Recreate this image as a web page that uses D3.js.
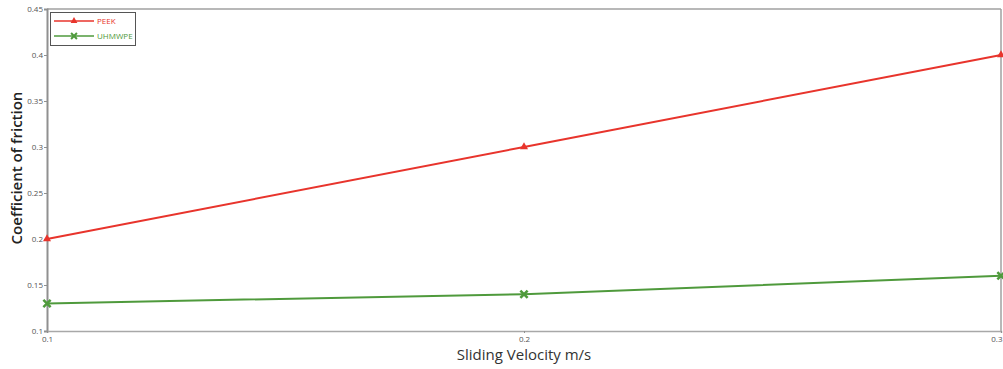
<!DOCTYPE html>
<html><head><meta charset="utf-8">
<script src="https://cdn.jsdelivr.net/npm/d3@7"></script>
<style>body{margin:0;background:#fff}svg{display:block}</style>
</head><body><svg id="c" width="1003" height="369"></svg>
<script>
const categories = ["0.1", "0.2", "0.3"];
const peek = [0.2, 0.3, 0.4];
const uhmwpe = [0.13, 0.14, 0.16];
const yTicks = [0.1, 0.15, 0.2, 0.25, 0.3, 0.35, 0.4, 0.45];
const seriesNames = ["PEEK", "UHMWPE"];
const colors = ["#e8342c", "#4f9a3c"];

const svg = d3.select("#c");
const L = 47, R = 1001, T = 9, B = 331;
const x = d3.scalePoint().domain(categories).range([L, R]);
const y = d3.scaleLinear().domain([0.1, 0.45]).range([B, T]);

// frame
svg.append("line").attr("x1", L).attr("x2", R).attr("y1", T).attr("y2", T).attr("stroke", "#a0a0a0").attr("stroke-width", 1.5);
svg.append("line").attr("x1", R).attr("x2", R).attr("y1", T).attr("y2", B).attr("stroke", "#a0a0a0").attr("stroke-width", 1.5);

const yAxis = d3.axisLeft(y).tickValues(yTicks).tickSize(3).tickFormat(d => d3.format("")(+d.toFixed(2)));
const gy = svg.append("g").attr("transform", `translate(${L},0)`).call(yAxis);
gy.select(".domain").attr("stroke", "#909090").attr("stroke-width", 2);
gy.selectAll(".tick line").attr("stroke", "#909090");
gy.selectAll(".tick text").attr("fill", "#555").style("font", "8px 'Open Sans', sans-serif").attr("x", -4);

const xAxis = d3.axisBottom(x).tickSize(2);
const gx = svg.append("g").attr("transform", `translate(0,${B})`).call(xAxis);
gx.select(".domain").attr("stroke", "#a8a8a8").attr("stroke-width", 1.5);
gx.selectAll(".tick line").attr("stroke", "#909090");
gx.selectAll(".tick text").attr("fill", "#555").style("font", "8px 'Open Sans', sans-serif").attr("y", 5);
gx.selectAll(".tick text").filter(d => d === categories[categories.length - 1]).attr("text-anchor", "end").attr("x", 1);

// titles
svg.append("text").attr("x", 524).attr("y", 360).attr("text-anchor", "middle")
  .style("font", "15px 'Open Sans', sans-serif").attr("fill", "#333").text("Sliding Velocity m/s");
svg.append("text").attr("transform", "translate(22,168) rotate(-90)").attr("text-anchor", "middle")
  .style("font", "600 15px 'Open Sans', sans-serif").attr("fill", "#222").text("Coefficient of friction");

const data = [peek, uhmwpe];
const line = d3.line().x((d, i) => x(categories[i])).y(d => y(d));
data.forEach((s, k) => {
  svg.append("path").datum(s).attr("d", line).attr("fill", "none").attr("stroke", colors[k]).attr("stroke-width", 2);
  s.forEach((v, i) => {
    const cx = x(categories[i]), cy = y(v);
    if (k === 0) {
      svg.append("path").attr("d", d3.symbol(d3.symbolTriangle, 28)()).attr("transform", `translate(${cx},${cy})`).attr("fill", colors[k]);
    } else {
      svg.append("path").attr("d", d3.symbol(d3.symbolX, 36)()).attr("transform", `translate(${cx},${cy})`).attr("stroke", colors[k]).attr("stroke-width", 2.5).attr("fill", "none");
    }
  });
});

// legend
const lg = svg.append("g");
lg.append("rect").attr("x", 50.5).attr("y", 12.5).attr("width", 85).attr("height", 33).attr("fill", "#fff").attr("stroke", "#555").attr("stroke-width", 1);
seriesNames.forEach((n, k) => {
  const yy = 21 + k * 15;
  lg.append("line").attr("x1", 54).attr("x2", 94).attr("y1", yy).attr("y2", yy).attr("stroke", colors[k]).attr("stroke-width", 1.5);
  if (k === 0) lg.append("path").attr("d", d3.symbol(d3.symbolTriangle, 20)()).attr("transform", `translate(74,${yy})`).attr("fill", colors[k]);
  else lg.append("path").attr("d", d3.symbol(d3.symbolX, 24)()).attr("transform", `translate(74,${yy})`).attr("stroke", colors[k]).attr("stroke-width", 2).attr("fill", "none");
  lg.append("text").attr("x", 97).attr("y", yy + 3).style("font", "8px 'Open Sans', sans-serif").attr("fill", colors[k]).text(n);
});
</script></body></html>
